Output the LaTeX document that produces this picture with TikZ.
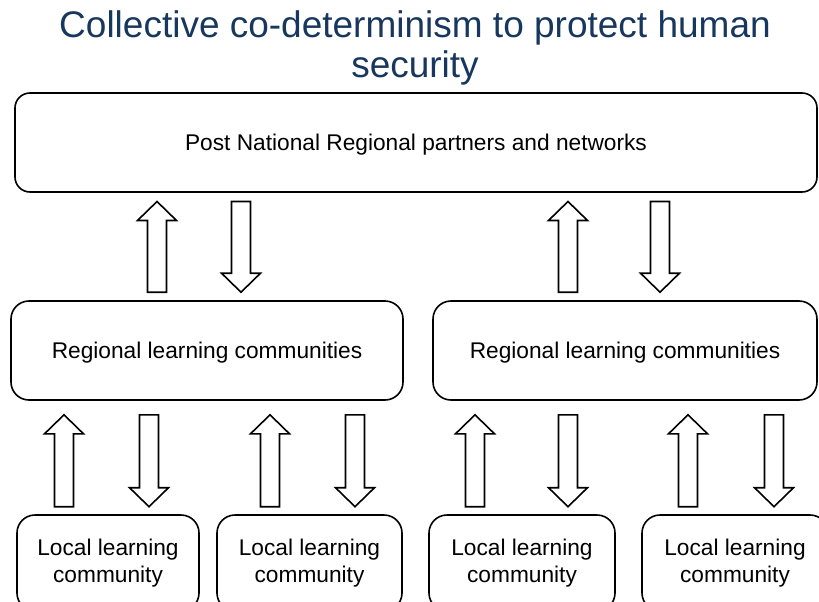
\documentclass[tikz,border=0pt]{standalone}
\usepackage{fontspec}
\setmainfont{Liberation Sans}
\usepackage{tikz}
\usetikzlibrary{calc}

\definecolor{titleblue}{RGB}{23,55,94}

\begin{document}
\begin{tikzpicture}[x=1pt, y=1pt,
    bodytext/.style={font=\fontsize{22.7}{27}\selectfont},
    roundbox/.style={draw, line width=1.6pt, rounded corners=18pt, bodytext, inner sep=0pt},
    blockarrow/.style={draw, line width=1.6pt, fill=white, line join=miter}]
  \useasboundingbox (0,0) rectangle (819,-602);
  \clip (0,0) rectangle (819,-602);
  \newcommand{\blockup}[5]%
  {%
    \draw[blockarrow] let \p1=(#2.north), \p2=(#3.south) in
      (#1-9.5, \y1+#4) -- (#1-9.5, \y2-#5-19) -- (#1-19.5, \y2-#5-19) -- (#1, \y2-#5)
      -- (#1+19.5, \y2-#5-19) -- (#1+9.5, \y2-#5-19) -- (#1+9.5, \y1+#4) -- cycle;%
  }%
  \newcommand{\blockdown}[5]%
  {%
    \draw[blockarrow] let \p1=(#2.south), \p2=(#3.north) in
      (#1-9.5, \y1-#4) -- (#1-9.5, \y2+#5+19) -- (#1-19.5, \y2+#5+19) -- (#1, \y2+#5)
      -- (#1+19.5, \y2+#5+19) -- (#1+9.5, \y2+#5+19) -- (#1+9.5, \y1-#4) -- cycle;%
  }%
  % title
  \node[font=\fontsize{37}{40}\selectfont, text=titleblue, align=center, anchor=base]
    (title) at (415,-77.3) {Collective co-determinism to protect human\\security};
  % boxes
  \node[roundbox, rounded corners=15pt, minimum width=802pt, minimum height=99pt,
    text height=16pt, text depth=0pt] (post) at (416,-142.5)
    {Post National Regional partners and networks};
  \node[roundbox, minimum width=392pt, minimum height=99pt,
    text height=16pt, text depth=0pt] (regleft) at (207,-350.5)
    {Regional learning communities};
  \node[roundbox, minimum width=384pt, minimum height=99pt,
    text height=16pt, text depth=0pt] (regright) at (625,-350.5)
    {Regional learning communities};
  \node[roundbox, align=center, minimum width=182pt, minimum height=96pt] (loc1) at (108,-563)
    {Local learning\\community};
  \node[roundbox, align=center, minimum width=185pt, minimum height=96pt] (loc2) at (309.5,-563)
    {Local learning\\community};
  \node[roundbox, align=center, minimum width=186pt, minimum height=96pt] (loc3) at (522,-563)
    {Local learning\\community};
  \node[roundbox, align=center, minimum width=186pt, minimum height=96pt] (loc4) at (735,-563)
    {Local learning\\community};
  % arrows between regional and national level
  \blockup{157}{regleft}{post}{8}{8.7}
  \blockdown{241}{post}{regleft}{8.7}{8}
  \blockup{568}{regright}{post}{8}{8.7}
  \blockdown{660}{post}{regright}{8.7}{8}
  % arrows between local and regional level
  \blockup{64}{loc1}{regleft}{7.5}{14}
  \blockdown{149}{regleft}{loc1}{14}{7.5}
  \blockup{270}{loc2}{regleft}{7.5}{14}
  \blockdown{355}{regleft}{loc2}{14}{7.5}
  \blockup{475}{loc3}{regright}{7.5}{14}
  \blockdown{568}{regright}{loc3}{14}{7.5}
  \blockup{688}{loc4}{regright}{7.5}{14}
  \blockdown{774}{regright}{loc4}{14}{7.5}
\end{tikzpicture}
\end{document}
